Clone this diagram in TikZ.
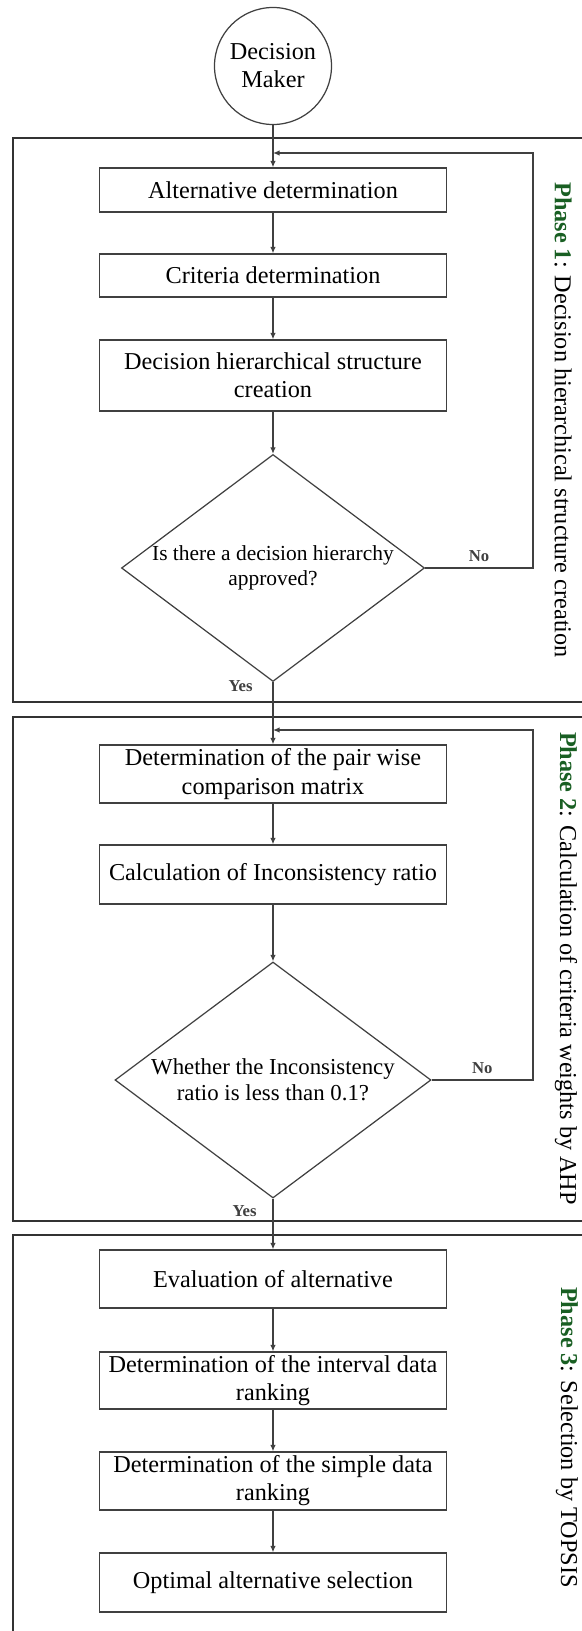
\documentclass[tikz,border=0pt]{standalone}
\usepackage{fontspec}
\setmainfont{Liberation Serif}
\usepackage{tikz}
\usetikzlibrary{shapes.geometric, arrows.meta, positioning, calc}
\definecolor{phasegreen}{RGB}{25,95,35}

\begin{document}
\begin{tikzpicture}[
        stepbox/.style={rectangle, draw=black!75, line width=0.7pt, fill=white, minimum width=6.94cm, minimum height=1.16cm, inner sep=0pt, align=center, font=\fontsize{13.8}{16}\selectfont},
        decision/.style={diamond, draw=black!75, line width=0.7pt, aspect=1.35, inner sep=0pt, align=center, font=\fontsize{12.2}{14.5}\selectfont},
        maker/.style={circle, draw=black!75, line width=0.7pt, minimum size=2.34cm, inner sep=0pt, align=center, font=\fontsize{13.8}{16}\selectfont},
        phase/.style={draw=black!80, line width=1pt},
        phasetext/.style={rotate=-90, inner sep=0pt, font=\fontsize{13.8}{16}\selectfont},
        answer/.style={inner sep=1pt, font=\bfseries\fontsize{9.5}{11}\selectfont},
        arrow/.style={-{Latex[length=1.3mm, width=1.1mm]}, black!75, line width=0.7pt}
    ]
        \useasboundingbox (-5.46,0) rectangle (6.16,-32.62);

        % Phase frames
        \draw[phase] (-5.2,-2.76) rectangle (6.5,-14.04);
        \draw[phase] (-5.2,-14.34) rectangle (6.5,-24.42);
        \draw[phase] (-5.2,-24.70) rectangle (6.5,-33.0);

        % Phase titles
        \node[phasetext] (p1) at (5.8,-8.4) {\textcolor{phasegreen}{\textbf{Phase 1}}: Decision hierarchical structure creation};
        \node[phasetext] (p2) at (5.86,-19.37) {\textcolor{phasegreen}{\textbf{Phase 2}}: Calculation of criteria weights by AHP};
        \node[phasetext] (p3) at (5.88,-28.75) {\textcolor{phasegreen}{\textbf{Phase 3}}: Selection by TOPSIS};

        % Decision maker
        \node[maker] (dm) at (0,-1.32) {Decision\\Maker};

        % Phase 1
        \node[stepbox, minimum height=0.88cm] (alt) at (0,-3.80) {Alternative determination};
        \node[stepbox, minimum height=0.86cm] (crit) at (0,-5.51) {Criteria determination};
        \node[stepbox, minimum height=1.42cm] (hier) at (0,-7.51) {Decision hierarchical structure\\creation};
        \node[decision, minimum width=6.06cm, minimum height=4.54cm] (d1) at (0,-11.36) {Is there a decision hierarchy\\approved?};

        % Phase 2
        \node[stepbox] (pw) at (0,-15.48) {Determination of the pair wise\\comparison matrix};
        \node[stepbox, minimum height=1.18cm] (ci) at (0,-17.49) {Calculation of Inconsistency ratio};
        \node[decision, aspect=1.3, minimum width=6.32cm, minimum height=4.72cm, font=\fontsize{13}{15}\selectfont] (d2) at (0,-21.6) {Whether the Inconsistency\\ratio is less than 0.1?};

        % Phase 3
        \node[stepbox] (eval) at (0,-25.58) {Evaluation of alternative};
        \node[stepbox, minimum height=1.14cm] (interval) at (0,-27.61) {Determination of the interval data\\ranking};
        \node[stepbox] (simple) at (0,-29.62) {Determination of the simple data\\ranking};
        \node[stepbox, minimum height=1.18cm] (optimal) at (0,-31.65) {Optimal alternative selection};

        % Return points
        \coordinate (back1) at (0,-3.06);
        \coordinate (r1) at (5.2,-3.06);
        \coordinate (back2) at (0,-14.6);
        \coordinate (r2) at (5.2,-14.6);

        % Main flow
        \draw[arrow] (dm) -- (alt);
        \draw[arrow] (alt) -- (crit);
        \draw[arrow] (crit) -- (hier);
        \draw[arrow] (hier) -- (d1);
        \draw[arrow] (d1.south) -- node[answer, at start, anchor=north east, xshift=-0.36cm, yshift=0.08cm] (yes1) {Yes} (pw.north);
        \draw[arrow] (pw) -- (ci);
        \draw[arrow] (ci) -- (d2);
        \draw[arrow] (d2.south) -- node[answer, at start, anchor=north east, xshift=-0.28cm, yshift=-0.1cm] (yes2) {Yes} (eval.north);
        \draw[arrow] (eval) -- (interval);
        \draw[arrow] (interval) -- (simple);
        \draw[arrow] (simple) -- (optimal);

        % Loops back
        \draw[arrow] (d1.east) -| node[answer, above=2pt, pos=0.25] (no1) {No} (r1) -- (back1);
        \draw[arrow] (d2.east) -| node[answer, above=2pt, pos=0.25] (no2) {No} (r2) -- (back2);

    \end{tikzpicture}
\end{document}
